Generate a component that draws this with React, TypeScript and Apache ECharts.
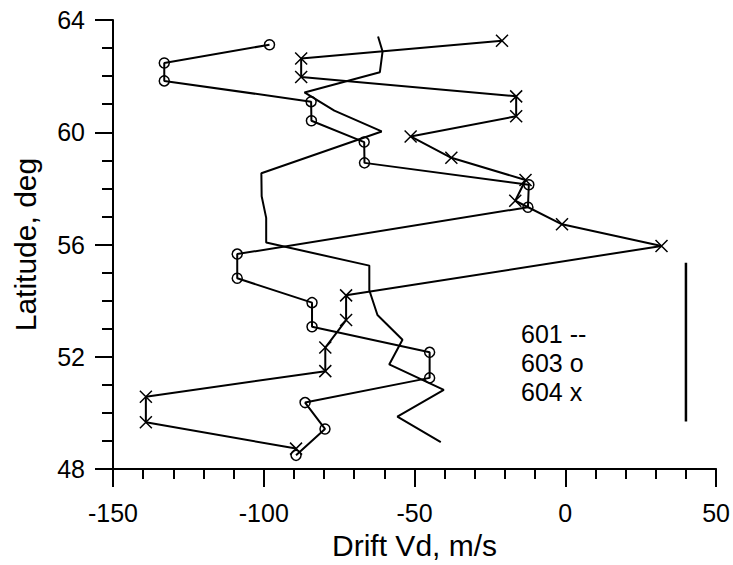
import React, { useEffect, useRef } from "react";
import * as echarts from "echarts";

const vd601 = [-62.1, -60.6, -61.5, -86.5, -76.6, -60.9, -100.8, -100.7, -99.2, -99.2, -65.0, -65.0, -62.3, -54.0, -58.4, -40.3, -55.7, -41.3];
const lat601 = [63.41, 62.88, 62.14, 61.42, 60.77, 60.03, 58.54, 57.72, 56.95, 56.07, 55.25, 54.37, 53.49, 52.61, 51.73, 50.82, 49.87, 48.96];

const vd603 = [-98.1, -133.0, -133.0, -84.3, -84.2, -66.7, -66.6, -12.1, -12.4, -108.8, -108.8, -84.0, -84.0, -45.0, -45.0, -86.3, -79.7, -89.3];
const lat603 = [63.12, 62.47, 61.83, 61.09, 60.41, 59.65, 58.91, 58.13, 57.33, 55.66, 54.80, 53.93, 53.07, 52.16, 51.25, 50.37, 49.43, 48.49];

const vd604 = [-21.0, -87.6, -87.6, -16.3, -16.3, -51.3, -37.8, -13.2, -16.6, -1.1, 31.9, -72.7, -72.7, -79.6, -79.6, -139.1, -139.1, -89.3];
const lat604 = [63.26, 62.63, 61.97, 61.28, 60.57, 59.85, 59.09, 58.30, 57.56, 56.72, 55.95, 54.19, 53.31, 52.33, 51.49, 50.58, 49.67, 48.73];

const scaleBarVd = [40, 40];
const scaleBarLat = [55.35, 49.7];

const legendLines = ["601 --", "603 o", "604 x"];

const FONT = "'Liberation Sans', Arial, sans-serif";

const pairs = (xs: number[], ys: number[]) => xs.map((x, i) => [x, ys[i]]);

export default function App() {
  const ref = useRef<HTMLDivElement>(null);
  useEffect(() => {
    if (!ref.current) return;
    document.body.style.margin = "0";
    const chart = echarts.init(ref.current, null, { renderer: "svg" });
    const lineStyle = { color: "#000", width: 2 };
    chart.setOption({
      animation: false,
      backgroundColor: "#fff",
      grid: { left: 113, right: 15, top: 20, bottom: 91, containLabel: false },
      xAxis: {
        type: "value",
        min: -150,
        max: 50,
        interval: 50,
        name: "Drift Vd, m/s",
        nameLocation: "middle",
        nameGap: 57,
        nameTextStyle: { fontSize: 30, color: "#000", fontFamily: FONT },
        axisLine: { show: true, onZero: false, lineStyle: { color: "#000", width: 2 } },
        axisTick: { show: true, inside: false, length: 18, lineStyle: { color: "#000", width: 2 } },
        minorTick: { show: true, splitNumber: 5, length: 10, lineStyle: { color: "#000", width: 2 } },
        axisLabel: { fontSize: 25, color: "#000", fontFamily: FONT, margin: 31 },
        splitLine: { show: false },
        minorSplitLine: { show: false },
      },
      yAxis: {
        type: "value",
        min: 48,
        max: 64,
        interval: 4,
        name: "Latitude, deg",
        nameLocation: "middle",
        nameGap: 73,
        nameRotate: 90,
        nameTextStyle: { fontSize: 30, color: "#000", fontFamily: FONT },
        axisLine: { show: true, onZero: false, lineStyle: { color: "#000", width: 2 } },
        axisTick: { show: true, inside: false, length: 18, lineStyle: { color: "#000", width: 2 } },
        minorTick: { show: true, splitNumber: 4, length: 11, lineStyle: { color: "#000", width: 2 } },
        axisLabel: { fontSize: 25, color: "#000", fontFamily: FONT, margin: 28 },
        splitLine: { show: false },
        minorSplitLine: { show: false },
      },
      series: [
        {
          name: "601",
          type: "line",
          data: pairs(vd601, lat601),
          symbol: "none",
          lineStyle,
        },
        {
          name: "603",
          type: "line",
          data: pairs(vd603, lat603),
          symbol: "circle",
          symbolSize: 10,
          showAllSymbol: true,
          itemStyle: { color: "transparent", borderColor: "#000", borderWidth: 1.5 },
          lineStyle,
        },
        {
          name: "604",
          type: "line",
          data: pairs(vd604, lat604),
          symbol: "path://M0,0L10,10M10,0L0,10",
          symbolSize: 12,
          showAllSymbol: true,
          itemStyle: { color: "transparent", borderColor: "#000", borderWidth: 1.5 },
          lineStyle,
        },
        {
          name: "scale",
          type: "line",
          data: pairs(scaleBarVd, scaleBarLat),
          symbol: "none",
          lineStyle: { color: "#000", width: 2.5 },
        },
      ],
      graphic: legendLines.map((t, i) => ({
        type: "text",
        left: 521,
        top: 321 + i * 29,
        style: { text: t, fontSize: 25, fill: "#000", fontFamily: FONT },
      })),
    });
    return () => chart.dispose();
  }, []);
  return <div ref={ref} style={{ width: 733, height: 565 }} />;
}
